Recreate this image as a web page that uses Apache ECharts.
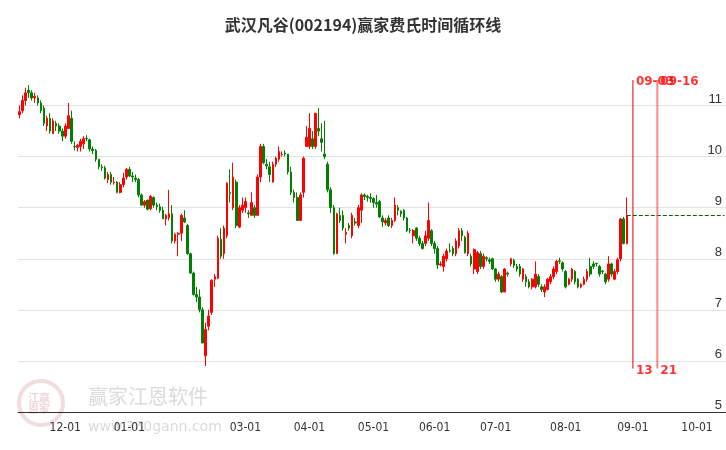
<!DOCTYPE html>
<html><head><meta charset="utf-8">
<script src="https://cdn.jsdelivr.net/npm/echarts@6/dist/echarts.min.js"></script>
<style>html,body{margin:0;padding:0;background:#fff}#c{width:726px;height:450px}</style>
</head><body><div id="c"></div>
<script>
const title = '武汉凡谷(002194)赢家费氏时间循环线';
const firstDataDate = '2023-11-10';
const totalCategories = 232;
const holidays = ['2024-02-09','2024-02-12','2024-02-13','2024-02-14','2024-02-15','2024-02-16','2024-04-04','2024-05-01','2024-05-02','2024-05-03','2024-10-01','2024-10-02','2024-10-03','2024-10-04','2024-10-07'];
const cycleOffsets = [2, 10];
const cycleTopLabels = ['09-03','09-16'];
const cycleBottomLabels = ['13','21'];
const refPrice = 8.85;
const yTicks = [5,6,7,8,9,10,11];
// [open, close, low, high]
const ohlc = [
[10.82,10.88,10.75,11.0],[10.9,11.1,10.85,11.2],[11.1,11.25,11.0,11.35],[11.3,11.25,11.15,11.4],[11.25,11.15,11.1,11.3],
[11.15,11.18,11.05,11.25],[11.15,11.05,11.0,11.2],[11.05,10.9,10.85,11.1],[10.95,10.65,10.6,11.0],[10.6,10.75,10.5,10.8],
[10.75,10.5,10.45,10.85],[10.45,10.7,10.45,10.75],[10.65,10.6,10.5,10.7],[10.6,10.5,10.45,10.65],[10.5,10.4,10.3,10.55],
[10.4,10.6,10.35,10.65],[10.55,10.8,10.55,11.05],[10.75,10.3,10.25,10.9],[10.2,10.19,10.12,10.3],[10.18,10.22,10.1,10.25],
[10.2,10.3,10.1,10.35],[10.25,10.35,10.15,10.4],[10.36,10.35,10.3,10.42],[10.33,10.15,10.1,10.35],[10.15,10.12,10.05,10.2],
[10.12,9.95,9.9,10.15],[9.95,9.8,9.75,9.95],[9.8,9.78,9.72,9.85],[9.78,9.58,9.55,9.82],[9.55,9.65,9.48,9.7],
[9.65,9.5,9.45,9.7],[9.49,9.5,9.45,9.6],[9.5,9.3,9.28,9.52],[9.3,9.45,9.28,9.5],[9.45,9.58,9.4,9.68],
[9.6,9.75,9.55,9.78],[9.75,9.62,9.6,9.8],[9.62,9.6,9.5,9.7],[9.58,9.55,9.5,9.65],[9.55,9.25,9.2,9.58],
[9.25,9.05,9.05,9.28],[9.05,9.12,9.0,9.15],[9.15,8.97,8.95,9.15],[8.98,9.22,8.95,9.25],[9.2,9.05,9.0,9.22],
[9.05,9.02,8.95,9.1],[9.02,8.95,8.9,9.08],[8.95,8.78,8.78,9.02],[8.78,8.85,8.65,8.88],[8.8,8.88,8.75,9.35],
[8.88,8.35,8.3,9.05],[8.35,8.48,8.3,8.5],[8.48,8.5,8.05,8.52],[8.5,8.85,8.35,8.88],[8.8,8.72,8.7,8.95],
[8.65,8.1,8.08,8.68],[8.1,7.72,7.7,8.12],[7.72,7.3,7.28,7.75],[7.3,7.25,7.15,7.45],[7.25,7.0,6.95,7.4],
[7.0,6.35,6.35,7.05],[6.1,6.62,5.9,6.75],[6.68,6.88,6.6,7.0],[6.95,7.58,6.9,7.6],[7.6,7.65,7.45,7.7],
[7.62,8.4,7.6,8.45],[8.38,8.05,8.0,8.6],[8.1,8.6,8.0,8.65],[8.45,9.48,8.4,9.5],[9.3,9.28,9.1,9.75],
[9.0,9.6,8.95,9.88],[9.5,8.65,8.6,9.55],[8.62,9.0,8.6,9.05],[8.95,9.05,8.9,9.2],[9.0,9.12,8.9,9.2],
[8.9,8.88,8.8,8.95],[8.85,9.1,8.85,9.3],[9.0,8.85,8.8,9.05],[8.85,9.6,8.85,9.65],[9.6,10.2,9.5,10.25],
[10.2,9.88,9.85,10.25],[9.85,9.82,9.75,9.95],[9.8,9.65,9.5,9.9],[9.5,9.85,9.5,9.9],[9.85,9.97,9.8,10.0],
[9.95,10.1,9.9,10.2],[10.04,10.05,10.0,10.1],[10.07,10.05,10.0,10.12],[10.05,9.7,9.65,10.05],[9.7,9.3,9.25,9.8],
[9.3,9.2,9.1,9.35],[9.2,8.75,8.75,9.3],[8.75,9.25,8.75,9.3],[9.3,9.97,9.2,10.0],[10.2,10.38,10.2,10.6],
[10.2,10.55,10.15,10.85],[10.35,10.2,10.15,10.5],[10.2,10.85,10.15,10.85],[10.55,10.5,10.4,10.95],[10.35,10.28,10.1,10.65],
[10.05,10.0,9.95,10.7],[9.85,9.35,9.3,9.9],[9.35,9.0,8.9,9.4],[9.0,8.1,8.08,9.05],[8.1,8.88,8.1,8.9],
[8.85,8.75,8.7,9.0],[8.85,8.6,8.55,8.95],[8.48,8.52,8.3,8.6],[8.65,8.6,8.55,8.7],[8.45,8.85,8.4,8.9],
[8.72,8.7,8.65,8.8],[8.65,9.0,8.6,9.05],[8.95,9.25,8.7,9.28],[9.25,9.22,9.15,9.28],[9.22,9.2,9.12,9.25],
[9.2,9.18,9.1,9.28],[9.18,9.1,9.0,9.2],[9.1,9.07,9.0,9.25],[9.12,8.82,8.8,9.15],[8.8,8.72,8.62,8.85],
[8.7,8.75,8.65,8.8],[8.8,8.65,8.62,8.85],[8.65,8.75,8.6,8.8],[8.75,9.05,8.72,9.2],[9.0,8.95,8.85,9.05],
[8.93,8.88,8.82,8.95],[8.95,8.8,8.75,8.97],[8.8,8.55,8.52,8.82],[8.56,8.55,8.5,8.6],
[8.45,8.55,8.3,8.58],[8.6,8.4,8.35,8.62],[8.4,8.3,8.25,8.45],[8.3,8.2,8.18,8.35],[8.3,8.45,8.25,8.55],
[8.4,8.75,8.35,9.1],[8.55,8.3,8.25,8.58],[8.3,8.2,8.1,8.35],[8.2,7.88,7.8,8.25],[7.88,7.9,7.85,7.95],
[7.85,8.05,7.75,8.1],[8.0,8.15,7.95,8.2],[8.16,8.15,8.12,8.3],[8.2,8.1,8.05,8.25],[8.1,8.35,8.05,8.4],
[8.25,8.55,8.2,8.6],[8.55,8.45,8.35,8.6],[8.42,8.12,8.1,8.45],[8.1,8.5,8.05,8.55],[8.05,7.9,7.85,8.1],
[7.8,8.18,7.7,8.2],[7.75,8.12,7.7,8.15],[8.1,7.85,7.8,8.15],[7.85,8.05,7.8,8.1],[8.02,8.0,7.95,8.05],
[7.98,7.95,7.9,8.02],[8.0,7.8,7.78,8.02],[7.8,7.6,7.55,7.82],[7.6,7.7,7.55,7.75],[7.65,7.35,7.33,7.68],
[7.35,7.8,7.35,7.82],[7.72,7.7,7.65,7.75],[7.9,8.0,7.85,8.02],[7.97,7.87,7.82,8.0],[7.85,7.8,7.75,7.9],
[7.85,7.7,7.65,7.9],[7.6,7.8,7.55,7.82],[7.65,7.55,7.45,7.7],[7.55,7.45,7.42,7.6],[7.45,7.6,7.4,7.62],
[7.45,7.7,7.42,7.95],[7.65,7.5,7.45,7.7],[7.45,7.4,7.35,7.5],[7.35,7.45,7.25,7.5],[7.4,7.6,7.38,7.62],
[7.55,7.65,7.5,7.7],[7.65,7.8,7.6,7.85],[7.75,7.95,7.7,7.98],[7.96,7.95,7.9,8.02],[7.92,7.8,7.75,7.95],
[7.75,7.45,7.42,7.78],[7.5,7.6,7.48,7.62],[7.6,7.8,7.55,7.82],[7.75,7.55,7.5,7.78],
[7.6,7.45,7.42,7.62],[7.45,7.5,7.42,7.52],[7.5,7.6,7.48,7.65],[7.6,7.75,7.55,7.8],[7.85,7.7,7.65,8.02],
[7.9,7.85,7.8,7.95],[7.91,7.9,7.85,7.92],[7.85,7.7,7.65,7.88],[7.76,7.75,7.7,7.78],[7.7,7.55,7.5,7.72],
[7.6,7.9,7.55,8.05],[7.9,7.7,7.65,7.92],[7.6,7.75,7.58,7.8],[7.75,7.98,7.7,8.02],[8.0,8.78,7.95,8.8],
[8.78,8.3,8.28,8.82],[8.3,8.85,8.28,9.2]
];

function iso(d){return d.toISOString().slice(0,10);}
function isTrading(d){const w=d.getUTCDay();return w!==0&&w!==6&&holidays.indexOf(iso(d))<0;}
const dates=[];
let d=new Date(firstDataDate+'T00:00:00Z');
while(dates.length<totalCategories){ if(isTrading(d)) dates.push(iso(d)); d=new Date(d.getTime()+86400000); }
const candleData = ohlc.map(r=>[r[0],r[1],r[2],r[3]]);
function isMonthStart(i){ if(i===0) return false; const m=dates[i].slice(5,7); return m!==dates[i-1].slice(5,7) && m!=='02'; }
const gridColors = yTicks.map(()=> '#e3e3e3').concat(['rgba(0,0,0,0)']);
const lastIdx = ohlc.length-1;
const lastDate=dates[lastIdx];
const cycleDates = cycleOffsets.map(o=>dates[lastIdx+o]);
const cycleStyles = [{color:'#e00000',width:1},{color:'rgba(240,60,60,0.6)',width:2}];

const chart=echarts.init(document.getElementById('c'));
chart.setOption({
  animation:false,
  title:{text:title,left:'center',top:12,textStyle:{fontSize:16,fontWeight:'bold',color:'#333',fontFamily:'Noto Sans CJK SC'}},
  graphic:[
    {type:'circle',shape:{cx:41,cy:403,r:22},style:{fill:'none',stroke:'rgba(200,120,120,0.25)',lineWidth:4}},
    {type:'text',left:28,top:392,style:{text:'江赢\n恩家',fill:'rgba(200,120,120,0.3)',font:'bold 11px "Noto Sans CJK SC"'}},
    {type:'text',left:88,top:386,style:{text:'赢家江恩软件',fill:'rgba(150,150,150,0.35)',font:'20px "Noto Sans CJK SC"'}},
    {type:'rect',shape:{x:88,y:412,width:130,height:1},style:{fill:'rgba(200,150,150,0.3)'}},
    {type:'text',left:88,top:420,style:{text:'www.360gann.com',fill:'rgba(150,150,150,0.35)',font:'14px "DejaVu Sans"'}}
  ],
  grid:{left:18,right:0,top:80,bottom:38},
  xAxis:{type:'category',data:dates,boundaryGap:true,
    axisLine:{lineStyle:{color:'#333'}},
    axisTick:{interval:isMonthStart,length:8,lineStyle:{color:'#333'}},
    axisLabel:{interval:isMonthStart,color:'#333',fontSize:12,fontFamily:'DejaVu Sans Condensed, Liberation Sans Narrow, sans-serif',formatter:v=>v.slice(5,7)+'-01',margin:10},
    splitLine:{show:false}},
  yAxis:{type:'value',position:'right',min:5,max:11.5,interval:1,
    axisLine:{show:false},axisTick:{show:false},
    axisLabel:{inside:true,color:'#333',fontSize:13,verticalAlign:'bottom',margin:4,showMaxLabel:false,fontFamily:'Liberation Sans',formatter:v=>yTicks.indexOf(v)>=0?String(v):''},
    splitLine:{lineStyle:{color:gridColors}}},
  series:[
    {type:'candlestick',data:candleData,barWidth:'70%',
      itemStyle:{color:'#ff0000',color0:'#008000',borderColor:'#ff0000',borderColor0:'#008000',borderWidth:1},
      markLine:{symbol:'none',silent:true,animation:false,label:{show:false},
        data:[
          [{coord:[lastDate,refPrice],lineStyle:{color:'#006400',type:'dashed',width:1}},{coord:[dates[dates.length-1],refPrice]}]
        ]}}
  ].concat(cycleDates.map((c,i)=>({type:'line',silent:true,symbol:'none',z:5,
      lineStyle:cycleStyles[i],itemStyle:{color:cycleStyles[i].color},
      data:[[c,5.85],[c,11.5]]}))).concat([
    {type:'scatter',symbolSize:0,silent:true,
      data:cycleDates.map((c,i)=>({value:[c,11.5],label:{formatter:cycleTopLabels[i]}})),
      label:{show:true,position:'right',distance:3,offset:[0,2],color:'#ff0000',fontWeight:'bold',fontSize:12,fontFamily:'DejaVu Sans'}},
    {type:'scatter',symbolSize:0,silent:true,
      data:cycleDates.map((c,i)=>({value:[c,5.85],label:{formatter:cycleBottomLabels[i]}})),
      label:{show:true,position:'right',distance:3,offset:[0,2],color:'#ff0000',fontWeight:'bold',fontSize:12,fontFamily:'DejaVu Sans'}}
  ])
});
</script></body></html>
